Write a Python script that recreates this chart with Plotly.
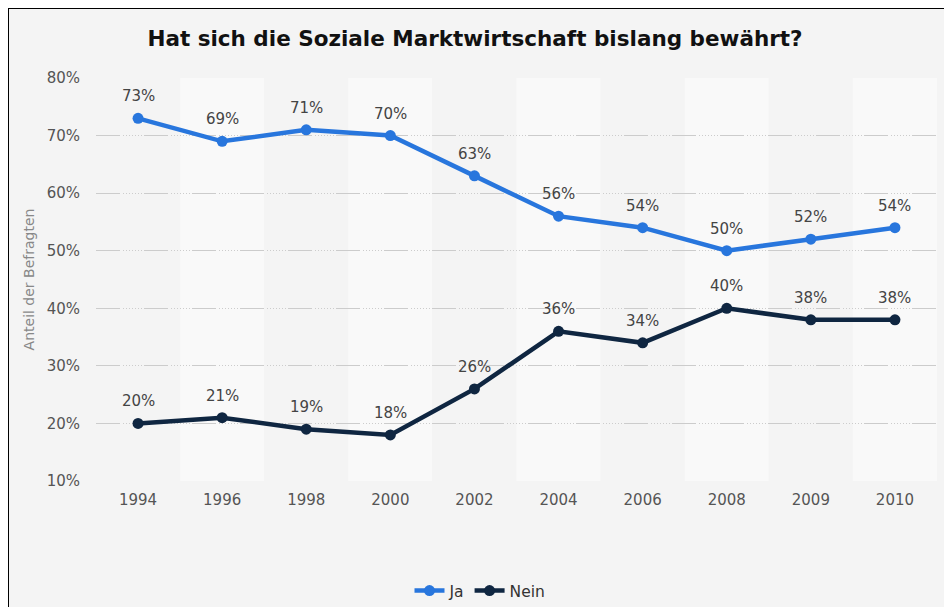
import plotly.graph_objects as go

years = ["1994", "1996", "1998", "2000", "2002", "2004", "2006", "2008", "2009", "2010"]
ja = [73, 69, 71, 70, 63, 56, 54, 50, 52, 54]
nein = [20, 21, 19, 18, 26, 36, 34, 40, 38, 38]

OFF = 8  # page body margin offset
W, H = 952 - OFF, 607 - OFF
L, R, T = 96 - OFF, 15, 78 - OFF
B = H - (481 - OFF)
PW = W - L - R
PH = H - T - B

fig = go.Figure()
annotations = []
for name, vals, col in [("Ja", ja, "#2876dd"), ("Nein", nein, "#0f2641")]:
    fig.add_trace(go.Scatter(
        x=years, y=vals, name=name, mode="lines+markers",
        line=dict(color=col, width=4.5), marker=dict(size=11, color=col),
        cliponaxis=False,
    ))
    for i, v in enumerate(vals):
        annotations.append(dict(x=i, y=v, xref="x", yref="y", text=f"{v}%",
                                showarrow=False, yshift=22, yanchor="middle",
                                font=dict(family="DejaVu Sans", size=15, color="#444444")))

shapes = [dict(type="rect", xref="paper", yref="paper",
               x0=(0 - L) / PW, x1=(1000 - L) / PW,
               y0=-(B + 50) / PH, y1=1 + (T - 0) / PH,
               fillcolor="#f4f4f4", line=dict(color="#000000", width=2), layer="below")]
for i in range(len(years)):
    shapes.append(dict(type="rect", xref="x", yref="paper",
                       x0=i - 0.5, x1=i + 0.5, y0=0, y1=1,
                       fillcolor="#f4f4f4" if i % 2 == 0 else "#f9f9f9",
                       line=dict(width=0), layer="below"))

dash = "24px,3px," + ",".join(["1px,2px"] * 7)

fig.update_layout(
    width=W, height=H,
    paper_bgcolor="#ffffff", plot_bgcolor="rgba(0,0,0,0)",
    margin=dict(l=L, r=R, t=T, b=B),
    shapes=shapes,
    annotations=annotations,
    title=dict(text="<b>Hat sich die Soziale Marktwirtschaft bislang bewährt?</b>",
               x=(475 - OFF) / W, xanchor="center", y=1 - (38 - OFF) / H, yanchor="middle",
               font=dict(family="DejaVu Sans", size=21.5, color="#111111")),
    xaxis=dict(type="category", range=[-0.5, 9.5], showgrid=False, zeroline=False,
               showline=False, ticks="", ticklabelstandoff=8,
               tickfont=dict(family="DejaVu Sans", size=15, color="#555555")),
    yaxis=dict(range=[10, 80], dtick=10, ticksuffix="%", showgrid=True,
               gridcolor="#cccccc", gridwidth=1, griddash=dash, zeroline=False,
               showline=False, ticks="", ticklabelstandoff=15,
               tickfont=dict(family="DejaVu Sans", size=15, color="#555555"),
               title=dict(text="Anteil der Befragten", standoff=8,
                          font=dict(family="DejaVu Sans", size=14, color="#888888"))),
    legend=dict(orientation="h", xref="container", yref="container",
                x=(480 - OFF) / W, xanchor="center",
                y=1 - (591 - OFF) / H, yanchor="middle",
                font=dict(family="DejaVu Sans", size=15.5, color="#333333"),
                bgcolor="rgba(0,0,0,0)"),
    showlegend=True,
)

fig.write_html("out.html")
